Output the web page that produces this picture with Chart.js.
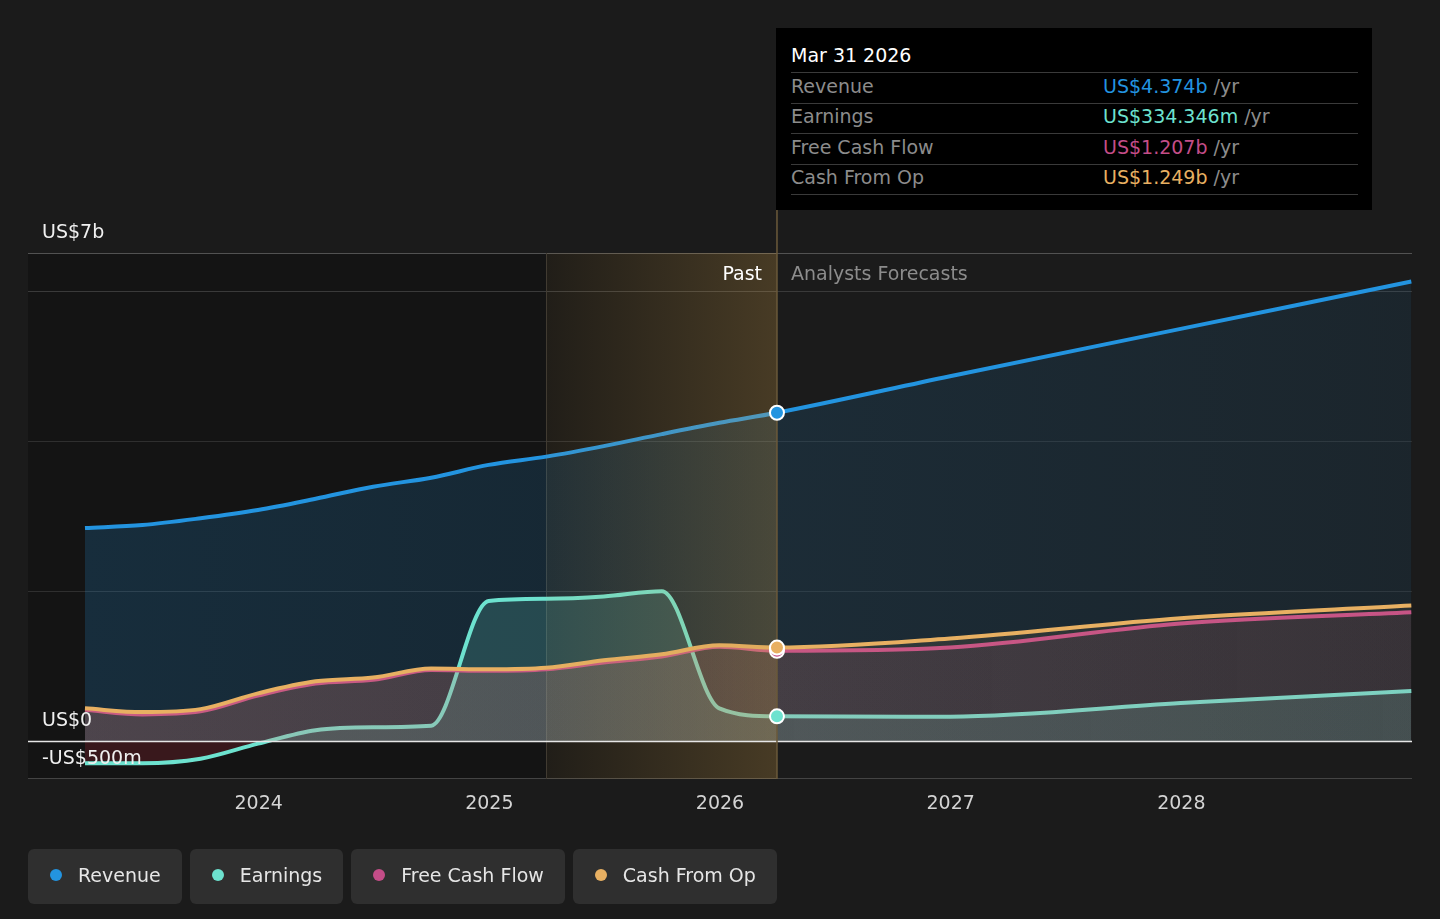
<!DOCTYPE html>
<html>
<head>
<meta charset="utf-8">
<script src="https://cdn.jsdelivr.net/npm/chart.js@4.4.1/dist/chart.umd.min.js"></script>
<style>
  body { margin: 0; background: #1b1b1b; font-family: "DejaVu Sans", sans-serif; }
  #wrap { position: relative; width: 1440px; height: 919px; overflow: hidden; }
  #chart { position: absolute; left: 0; top: 0; }
  #tip { position: absolute; left: 776px; top: 28px; width: 596px; height: 182px; background: #000;
         box-sizing: border-box; padding: 0 14px 0 15px; font-size: 19px; color: #8c8c8c; }
  #tip .title { color: #fff; padding-top: 14px; line-height: 26px; height: 30px; border-bottom: 1.5px solid #3a3a3a; }
  #tip .row { display: flex; line-height: 29.5px; height: 29.5px; border-bottom: 1.5px solid #3a3a3a; }
  #tip .row span { position: relative; top: -1.5px; }
  #tip .row span span { top: 0; }
  #tip .row .lbl { width: 312px; }
  #legend { position: absolute; left: 28px; top: 849px; display: flex; gap: 8px; }
  #legend .item { height: 55px; box-sizing: border-box; padding: 0 21px 3px 22px; background: #2f2f2f; border-radius: 6px;
                  display: flex; align-items: center; color: #e6e6e6; font-size: 19px; }
  #legend .dot { width: 12px; height: 12px; border-radius: 50%; margin-right: 16px; }
</style>
</head>
<body>
<div id="wrap">
  <canvas id="chart" width="1440" height="919"></canvas>
  <div id="tip"></div>
  <div id="legend"></div>
</div>
<script>
// quarterly history up to Mar 2026, then analyst forecasts (fractional years)
const years    = [2023.247, 2023.496, 2023.748, 2023.997, 2024.247, 2024.496, 2024.748, 2024.997,
                  2025.247, 2025.496, 2025.748, 2025.997, 2026.247, 2026.997, 2027.997, 2028.997];
const revenue  = [2.84, 2.88, 2.97, 3.08, 3.23, 3.39, 3.51, 3.68, 3.79, 3.93, 4.09, 4.24, 4.374, 4.86, 5.49, 6.12];
const earnings = [-0.29, -0.29, -0.23, -0.03, 0.15, 0.19, 0.21, 1.87, 1.90, 1.93, 2.00, 0.44, 0.334346, 0.33, 0.51, 0.67];
const freeCash = [0.42, 0.36, 0.40, 0.61, 0.77, 0.82, 0.95, 0.94, 0.96, 1.05, 1.13, 1.26, 1.207, 1.25, 1.57, 1.72];
const cashOp   = [0.44, 0.39, 0.43, 0.64, 0.80, 0.85, 0.97, 0.96, 0.98, 1.08, 1.16, 1.28, 1.249, 1.37, 1.64, 1.81];

const pastEnd = 2026.247;
const highlightStart = 2025.247;
const pastEndLabel = 'Mar 31 2026';

const xTicks = [2024, 2025, 2026, 2027, 2028];
const yGrid = [2, 4, 6];
const yLabelValues = [6.5, 0, -0.5];
const yLabelTexts = ['US$7b', 'US$0', '-US$500m'];

const series = [
  { name: 'Revenue',        data: revenue,  color: '#2394e0', rgb: '35,148,224' },
  { name: 'Earnings',       data: earnings, color: '#6de2cf', rgb: '109,226,207' },
  { name: 'Free Cash Flow', data: freeCash, color: '#c44d88', rgb: '196,77,136' },
  { name: 'Cash From Op',   data: cashOp,   color: '#e8b062', rgb: '232,176,98' }
];

const FONT = '"DejaVu Sans", sans-serif';
const pastIdx = years.indexOf(pastEnd);

function fmt(v) {
  return v >= 1 ? 'US$' + v.toFixed(3) + 'b' : 'US$' + (v * 1000).toFixed(3) + 'm';
}

// tooltip box + legend
const tip = document.getElementById('tip');
let html = '<div class="title">' + pastEndLabel + '</div>';
series.forEach(s => {
  html += '<div class="row"><span class="lbl">' + s.name + '</span><span><span style="color:' + s.color + '">' +
          fmt(s.data[pastIdx]) + '</span> /yr</span></div>';
});
tip.innerHTML = html;

const legend = document.getElementById('legend');
series.forEach(s => {
  const d = document.createElement('div');
  d.className = 'item';
  d.innerHTML = '<span class="dot" style="background:' + s.color + '"></span>' + s.name;
  legend.appendChild(d);
});

function hGrad(ctx, rgb, aLeft, aRight) {
  const area = ctx.chart.chartArea;
  if (!area) return 'rgba(' + rgb + ',' + aLeft + ')';
  const g = ctx.chart.ctx.createLinearGradient(area.left, 0, area.right, 0);
  g.addColorStop(0, 'rgba(' + rgb + ',' + aLeft + ')');
  g.addColorStop(1, 'rgba(' + rgb + ',' + aRight + ')');
  return g;
}

const points = arr => years.map((x, i) => ({ x: x, y: arr[i] }));

const datasets = [
  { label: 'Revenue', data: points(revenue), borderColor: series[0].color, order: 4,
    fill: 'origin', backgroundColor: c => hGrad(c, series[0].rgb, 0.2, 0.09) },
  { label: 'Earnings', data: points(earnings), borderColor: series[1].color, order: 3,
    fill: { target: 'origin', above: 'rgba(109,226,207,0.18)', below: 'rgba(190,40,60,0.22)' } },
  { label: 'Free Cash Flow', data: points(freeCash), borderColor: series[2].color, order: 2,
    fill: 'origin', backgroundColor: c => hGrad(c, series[2].rgb, 0.16, 0.09) },
  { label: 'Cash From Op', data: points(cashOp), borderColor: series[3].color, order: 1,
    fill: 'origin', backgroundColor: c => hGrad(c, series[3].rgb, 0.15, 0.07) }
];

const decor = {
  id: 'decor',
  beforeDatasetsDraw(chart) {
    const { ctx, chartArea: a, scales: { x, y } } = chart;
    const xs = x.getPixelForValue(highlightStart);
    const xe = x.getPixelForValue(pastEnd);
    ctx.save();
    ctx.fillStyle = '#141414';
    ctx.fillRect(a.left, a.top, xe - a.left, a.bottom - a.top);
    ctx.lineWidth = 1;
    ctx.strokeStyle = '#2f2f2f';
    yGrid.forEach(v => {
      const py = Math.round(y.getPixelForValue(v)) + 0.5;
      ctx.beginPath(); ctx.moveTo(a.left, py); ctx.lineTo(a.right, py); ctx.stroke();
    });
    ctx.strokeStyle = '#3a3a3a';
    const p6 = Math.round(y.getPixelForValue(6)) + 0.5;
    ctx.beginPath(); ctx.moveTo(a.left, p6); ctx.lineTo(a.right, p6); ctx.stroke();
    ctx.strokeStyle = '#525252';
    ctx.beginPath(); ctx.moveTo(a.left, a.top + 0.5); ctx.lineTo(a.right, a.top + 0.5); ctx.stroke();
    ctx.strokeStyle = '#444';
    ctx.beginPath(); ctx.moveTo(a.left, a.bottom - 0.5); ctx.lineTo(a.right, a.bottom - 0.5); ctx.stroke();
    ctx.strokeStyle = '#3a3630';
    ctx.beginPath(); ctx.moveTo(Math.round(xs) + 0.5, a.top); ctx.lineTo(Math.round(xs) + 0.5, a.bottom); ctx.stroke();
    ctx.restore();
  },
  afterDatasetsDraw(chart) {
    const { ctx, chartArea: a, scales: { x, y } } = chart;
    const xs = x.getPixelForValue(highlightStart);
    const xe = x.getPixelForValue(pastEnd);
    ctx.save();
    // last-year highlight band
    const g = ctx.createLinearGradient(xs, 0, xe, 0);
    g.addColorStop(0, 'rgba(205,160,80,0.07)');
    g.addColorStop(1, 'rgba(205,160,80,0.28)');
    ctx.fillStyle = g;
    ctx.fillRect(xs, a.top, xe - xs, a.bottom - a.top);
    // zero line
    const z = Math.round(y.getPixelForValue(0)) + 0.5;
    ctx.strokeStyle = '#e6e6e6';
    ctx.lineWidth = 1.5;
    ctx.beginPath(); ctx.moveTo(a.left, z); ctx.lineTo(a.right, z); ctx.stroke();
    // past / forecast divider
    ctx.strokeStyle = '#6b5a3a';
    ctx.lineWidth = 1.5;
    ctx.beginPath(); ctx.moveTo(xe, 28); ctx.lineTo(xe, a.bottom); ctx.stroke();
    // markers at the last reported value
    series.forEach(s => {
      const px = x.getPixelForValue(pastEnd);
      const py = y.getPixelForValue(s.data[pastIdx]);
      ctx.beginPath(); ctx.arc(px, py, 7, 0, Math.PI * 2);
      ctx.fillStyle = s.color; ctx.fill();
      ctx.lineWidth = 2; ctx.strokeStyle = '#fff'; ctx.stroke();
    });
    // text
    ctx.font = '19px ' + FONT;
    ctx.textBaseline = 'middle';
    ctx.textAlign = 'right';
    ctx.fillStyle = '#ffffff';
    const ty = (a.top + y.getPixelForValue(6)) / 2 + 3;
    ctx.fillText('Past', xe - 15, ty);
    ctx.textAlign = 'left';
    ctx.fillStyle = '#8c8c8c';
    ctx.fillText('Analysts Forecasts', xe + 14, ty);
    ctx.textAlign = 'center';
    ctx.fillStyle = '#d4d4d4';
    xTicks.forEach(t => ctx.fillText(String(t), x.getPixelForValue(t), a.bottom + 25));
    ctx.textAlign = 'left';
    ctx.textBaseline = 'alphabetic';
    ctx.fillStyle = '#f0f0f0';
    yLabelValues.forEach((v, i) => ctx.fillText(yLabelTexts[i], a.left + 14, y.getPixelForValue(v) - 15));
    ctx.restore();
  }
};

new Chart(document.getElementById('chart').getContext('2d'), {
  type: 'line',
  data: { datasets: datasets },
  options: {
    responsive: false,
    animation: false,
    layout: { padding: { left: 28, right: 28, top: 253, bottom: 140 } },
    scales: {
      x: { type: 'linear', min: 2023, max: 2029, display: false },
      y: { type: 'linear', min: -0.5, max: 6.5, display: false }
    },
    elements: {
      point: { radius: 0, hoverRadius: 0 },
      line: { borderWidth: 4, cubicInterpolationMode: 'monotone' }
    },
    plugins: { legend: { display: false }, tooltip: { enabled: false } },
    events: []
  },
  plugins: [decor]
});
</script>
</body>
</html>
